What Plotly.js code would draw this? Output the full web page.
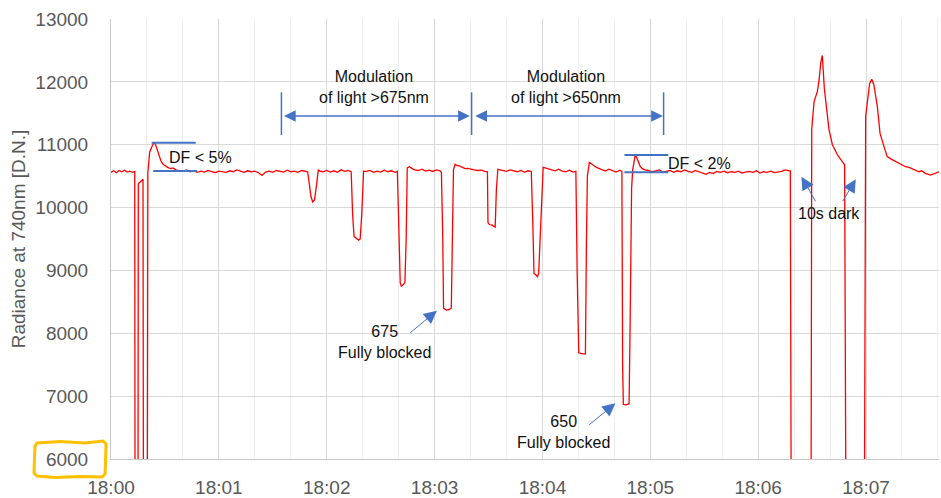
<!DOCTYPE html>
<html>
<head>
<meta charset="utf-8">
<script src="https://cdn.plot.ly/plotly-3.0.1.min.js"></script>
<style>html,body{margin:0;padding:0;background:#fff;}#chart{width:941px;height:498px;}</style>
</head>
<body>
<div id="chart"></div>
<script>
// ---- data (seconds after 18:00, radiance D.N.) ----
const timeSec = [
  0,1.5,3,4.5,6,7.5,9,10.5,12,13.2,
  13.5,14.9,15.2,16,17,17.8,18.2,20.0,20.5,21.5,22.6,23.9,24.8,25.8,26.8,27.8,29,30.2,31.5,33,34.5,36,
  38,40,42,44,46,48,50,52,54,56,58,60,62,64,66,68,70,72,74,76,78,80,82,84,86,88,90,92,94,96,98,100,102,104,106,108,
  109.4,110.3,111.2,112.2,113.2,114.3,115.3,116.2,
  118,120,122,124,126,128,130,132,133.6,
  134.4,135.2,136.5,137.8,138.6,139.5,140.5,
  142,144,146,148,150,152,154,156,158,159.3,
  160.2,160.9,161.5,162.5,163.5,164.2,164.8,166,167.5,
  169,171,173,175,177,179,181,183,
  183.8,184.5,185,186.5,188,189.3,189.9,190.5,191.4,192.5,194,195.5,197,198.5,200,202,204,206,208,209.4,
  209.7,210.5,212,213.2,213.7,214.4,215.2,216.5,
  218,220,222,224,226,228,230,232,233.8,
  234.6,235.3,236.3,237.2,237.9,239,240.4,241.5,243,
  245,247,249,251,253,255,257,258.6,
  259.3,260.2,261.5,263,263.9,264.5,265,266.1,267.3,268.5,270,271.5,
  273,275,277,279,281,283,284.2,
  284.6,285,286.5,288.2,288.8,289.6,290.2,290.9,291.6,292.4,293.3,294.3,295.5,297,
  299,301,303,305,307,309,311,313,315,317,319,321,323,325,327,329,331,333,335,337,339,341,343,345,347,349,351,353,355,357,359,361,363,365,367,369,371,373,375,377,
  377.9,378.7,389.2,389.8,391.1,392.9,393.9,394.8,395.7,396.8,398.5,399.4,401.3,404.1,406.8,408.1,409.3,
  418.7,419.8,420.7,422,423.2,424.4,426.3,427.8,430,431.8,434,436.5,439,442,444,446,448,449.4,451,453,455.9,457.5,459,460.6
];
const radiance = [
  10560,10585,10555,10590,10570,10595,10565,10580,10560,10575,
  1500,1500,10380,10400,10430,10450,1500,1500,10550,10880,10960,11040,11000,10900,10820,10740,10690,10660,10640,10620,10630,10600,
  10590,10575,10600,10570,10585,10560,10580,10565,10590,10570,10555,10580,10575,10560,10585,10570,10600,10575,10560,10585,10570,10580,10555,10510,10565,10580,10560,10590,10575,10565,10595,10570,10580,10560,10590,10575,
  10570,10380,10180,10090,10120,10350,10600,10580,
  10570,10590,10565,10585,10560,10600,10575,10590,10570,
  9900,9540,9510,9480,9500,9900,10580,
  10575,10590,10560,10580,10565,10595,10570,10585,10560,10575,
  9700,8800,8750,8770,8810,9500,10630,10650,10620,
  10600,10590,10610,10580,10595,10575,10600,10585,
  10560,9600,8400,8370,8375,8400,9500,10600,10690,10670,10660,10640,10620,10625,10610,10600,10590,10595,10575,10570,
  9760,9730,9720,9700,9690,10300,10610,10600,
  10590,10575,10600,10580,10570,10590,10560,10585,10575,
  9800,8950,8930,8900,8950,9800,10640,10630,10620,
  10600,10585,10610,10580,10570,10595,10565,10575,
  9000,7690,7680,7670,7670,9500,10500,10720,10700,10670,10640,10620,
  10600,10580,10610,10590,10565,10595,10575,
  7500,6870,6860,6880,8200,10300,10600,10760,10830,10800,10720,10660,10620,10600,
  10590,10570,10585,10600,10565,10580,10590,10560,10585,10570,10600,10575,10560,10590,10570,10545,10530,10560,10540,10575,10560,10580,10555,10570,10560,10580,10550,10565,10575,10560,10585,10550,10570,10560,10580,10555,10565,10575,10600,10590,
  10580,1500,1500,11240,11685,11845,12030,12300,12420,11900,11390,11240,11000,10840,10730,10680,1500,
  1500,11450,11685,11975,12040,11950,11605,11180,10970,10810,10770,10730,10690,10650,10640,10615,10590,10570,10585,10545,10518,10535,10560,10570
];
const tickSeconds = [0,60,120,180,240,300,360,420];
const tickLabels = ['18:00','18:01','18:02','18:03','18:04','18:05','18:06','18:07'];
const yTitle = 'Radiance at 740nm [D.N.]';
const noteTexts = ['Modulation<br>of light &gt;675nm','Modulation<br>of light &gt;650nm','675<br>Fully blocked','650<br>Fully blocked','10s dark','DF &lt; 5%','DF &lt; 2%'];

// ---- layout geometry ----
const W = 941, H = 498, ML = 111, MR = 2, MT = 19, MB = 39;
const blue = '#4472C4';
const txt = '#111111';
const pw = W - ML - MR, ph = H - MT - MB;
function toPaper(px, py){ return [((px - ML)/pw).toFixed(4), ((H - MB - py)/ph).toFixed(4)]; }
const boxPts = [[37,443],[60,441.5],[85,443],[103,441],[106,444],[105.5,460],[105,474],[102,477],[80,476.5],[55,477.5],[37,476],[34,473],[34.5,458],[35,446]];
const boxPath = boxPts.map((p,i)=>{const q=toPaper(p[0],p[1]);return (i?'L':'M')+q[0]+','+q[1];}).join(' ')+' Z';

const trace = {x: timeSec, y: radiance, type:'scatter', mode:'lines', line:{color:'#FF0000', width:1.3}, hoverinfo:'skip'};

function textNote(i, x, y){ return {x:x, y:y, xref:'x', yref:'y', text:noteTexts[i], showarrow:false, font:{size:16, color:txt}}; }
function arrowNote(x, y, ax, ay, both, w, s){
  return {x:x, y:y, ax:ax, ay:ay, xref:'x', yref:'y', axref:'x', ayref:'y', text:'', showarrow:true,
    arrowhead:2, startarrowhead:2, arrowsize:s, startarrowsize:s, arrowwidth:w, arrowcolor:blue,
    arrowside: both ? 'end+start' : 'end', standoff:0, startstandoff:0};
}
const hline = (x0,x1,y)=>({type:'line', xref:'x', yref:'y', x0:x0, x1:x1, y0:y, y1:y, line:{color:blue, width:2}});
const vline = (x)=>({type:'line', xref:'x', yref:'y', x0:x, x1:x, y0:11154, y1:11834, line:{color:blue, width:1.5}});

const layout = {
  width:W, height:H,
  margin:{l:ML, r:MR, t:MT, b:MB, pad:0},
  paper_bgcolor:'#ffffff', plot_bgcolor:'#ffffff',
  font:{family:'"Liberation Sans", Arial, sans-serif', color:'#595959'},
  showlegend:false,
  xaxis:{range:[0,460.6], tickmode:'array', tickvals:tickSeconds, ticktext:tickLabels,
    showgrid:true, gridcolor:'#d9d9d9', gridwidth:1, zeroline:false,
    showline:true, linecolor:'#c8c8c8', linewidth:1, ticks:'', ticklabelstandoff:11,
    tickfont:{size:19, color:'#595959'},
    minor:{tickmode:'linear', tick0:0, dtick:20, showgrid:true, gridcolor:'#eeeeee', gridwidth:1, ticks:''}},
  yaxis:{range:[6000,13000], tick0:6000, dtick:1000, tickformat:'d',
    showgrid:true, gridcolor:'#d9d9d9', gridwidth:1, zeroline:false,
    showline:true, linecolor:'#c8c8c8', linewidth:1, ticks:'', ticklabelstandoff:18,
    tickfont:{size:19, color:'#595959'},
    title:{text:yTitle, standoff:4, font:{size:19, color:'#595959'}}},
  shapes:[
    hline(22.6,47.1,11032), hline(23.5,47.9,10582),
    hline(285.6,310,10836), hline(285.6,310,10561),
    vline(94.8), vline(200.6), vline(307.4),
    {type:'path', xref:'paper', yref:'paper', path:boxPath, line:{color:'#FFC000', width:3}, fillcolor:'rgba(0,0,0,0)'}
  ],
  annotations:[
    textNote(0,146.5,11918), textNote(1,253,11918),
    textNote(2,152.2,7861), textNote(3,251.7,6426),
    textNote(4,399.3,9909),
    textNote(5,49.7,10804), textNote(6,327.4,10704),
    arrowNote(199.6,11457,95.4,11457,true,1.3,1.8),
    arrowNote(307,11457,201.8,11457,true,1.3,1.8),
    arrowNote(181.3,8359,165.6,7988,false,1,2.6),
    arrowNote(280.6,6886,265.2,6525,false,1,2.6),
    arrowNote(384.1,10491,392.4,10077,false,1,2.6),
    arrowNote(414.3,10450,406.5,10077,false,1,2.6)
  ]
};
Plotly.newPlot('chart',[trace],layout,{staticPlot:true, displayModeBar:false});
</script>
</body>
</html>
